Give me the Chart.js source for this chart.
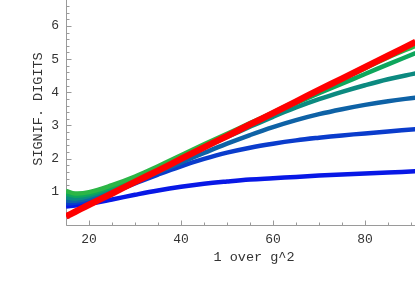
<!DOCTYPE html>
<html>
<head>
<meta charset="utf-8">
<script src="https://cdn.jsdelivr.net/npm/chart.js@4.4.0/dist/chart.umd.min.js"></script>
<style>
  html, body { margin: 0; padding: 0; background: #fff; }
  #wrap { width: 415px; height: 294px; }
</style>
</head>
<body>
<div id="wrap"><canvas id="chart" width="415" height="294"></canvas></div>
<script>
// Values (x = 1/g^2, y = significant digits)
const xs = [15, 17, 20, 25, 30, 35, 40, 45, 50, 55, 60, 65, 70, 75, 80, 85, 91];

const exactLine = [0.26, 0.40, 0.61, 0.95, 1.30, 1.64, 1.99, 2.34, 2.68, 3.03, 3.37, 3.72, 4.07, 4.41, 4.76, 5.10, 5.52];
const order1 = [0.56, 0.59, 0.64, 0.77, 0.91, 1.04, 1.15, 1.24, 1.31, 1.37, 1.41, 1.45, 1.49, 1.52, 1.55, 1.58, 1.62];
const order2 = [0.65, 0.67, 0.74, 0.98, 1.25, 1.52, 1.77, 1.99, 2.18, 2.33, 2.45, 2.55, 2.63, 2.70, 2.76, 2.82, 2.89];
const order3 = [0.74, 0.73, 0.81, 1.04, 1.31, 1.59, 1.88, 2.17, 2.45, 2.71, 2.95, 3.16, 3.34, 3.49, 3.62, 3.73, 3.84];
const order4 = [0.84, 0.80, 0.87, 1.10, 1.36, 1.67, 2.00, 2.33, 2.65, 2.96, 3.26, 3.54, 3.79, 4.01, 4.21, 4.39, 4.57];
const order5 = [0.94, 0.88, 0.93, 1.15, 1.41, 1.72, 2.05, 2.38, 2.71, 3.04, 3.36, 3.67, 3.97, 4.26, 4.55, 4.84, 5.18];
const order6 = [1.03, 0.95, 0.99, 1.20, 1.46, 1.77, 2.10, 2.43, 2.75, 3.07, 3.39, 3.73, 4.06, 4.39, 4.72, 5.05, 5.40];

const xTicks = [20, 40, 60, 80];
const yTicks = [1, 2, 3, 4, 5, 6];
const xTitle = '1 over g^2';
const yTitle = 'SIGNIF. DIGITS';

const monoFont = "13px 'Liberation Mono', 'DejaVu Sans Mono', monospace";

function series(values, color, width) {
    return {
        data: xs.map((x, i) => ({ x: x, y: values[i] })),
        borderColor: color,
        borderWidth: width,
        pointRadius: 0,
        fill: false,
        tension: 0.4
    };
}

// Mathematica-style axes: thin grey lines, inward ticks, labels and titles
const axesPlugin = {
    id: 'axes',
    beforeDatasetsDraw(chart) {
        const { ctx, chartArea: a, scales: { x, y } } = chart;
        const x0 = Math.round(a.left) + 0.5;
        const y0 = Math.round(a.bottom) + 0.5;
        ctx.save();
        ctx.strokeStyle = '#9a9a9a';
        ctx.lineWidth = 1;
        ctx.beginPath();
        ctx.moveTo(x0, a.top);
        ctx.lineTo(x0, y0);
        ctx.lineTo(a.right, y0);
        for (let v = 15; v <= x.max; v += 5) {
            const px = Math.round(x.getPixelForValue(v)) + 0.5;
            const len = v % 20 === 0 ? 5 : 3;
            ctx.moveTo(px, y0);
            ctx.lineTo(px, y0 - len);
        }
        for (let i = 1; i * 0.2 <= y.max; i++) {
            const py = Math.round(y.getPixelForValue(i * 0.2)) + 0.5;
            const len = i % 5 === 0 ? 5 : 3;
            ctx.moveTo(x0, py);
            ctx.lineTo(x0 + len, py);
        }
        ctx.stroke();

        ctx.fillStyle = '#333';
        ctx.font = monoFont;
        ctx.textBaseline = 'middle';
        ctx.textAlign = 'center';
        xTicks.forEach(v => ctx.fillText(String(v), x.getPixelForValue(v), 240));
        ctx.textAlign = 'right';
        yTicks.forEach(v => ctx.fillText(String(v), 59, y.getPixelForValue(v)));

        ctx.font = "13.5px 'Liberation Mono', monospace";
        ctx.textAlign = 'center';
        ctx.fillText(xTitle, 254, 257);
        ctx.translate(38, 109);
        ctx.rotate(-Math.PI / 2);
        ctx.fillText(yTitle, 0, 0);
        ctx.restore();
    }
};

new Chart(document.getElementById('chart'), {
    type: 'line',
    data: {
        datasets: [
            series(exactLine, '#ff0000', 6.5),
            series(order6, '#2cb646', 4.5),
            series(order5, '#0ea65c', 4.5),
            series(order4, '#0c8a80', 4.5),
            series(order3, '#0e62a6', 4.5),
            series(order2, '#0a3ccc', 4.5),
            series(order1, '#0818e6', 4.5)
        ]
    },
    options: {
        responsive: false,
        animation: false,
        devicePixelRatio: 1,
        layout: { padding: 0 },
        plugins: { legend: { display: false }, tooltip: { enabled: false } },
        scales: {
            x: {
                type: 'linear',
                min: 15,
                max: 90.87,
                grid: { display: false },
                border: { display: false },
                ticks: { display: false },
                afterFit: s => { s.height = 69; s.paddingLeft = 0; s.paddingRight = 0; }
            },
            y: {
                type: 'linear',
                min: 0,
                max: 6.78,
                grid: { display: false },
                border: { display: false },
                ticks: { display: false },
                afterFit: s => { s.width = 66; s.paddingTop = 0; s.paddingBottom = 0; }
            }
        }
    },
    plugins: [axesPlugin]
});
</script>
</body>
</html>
